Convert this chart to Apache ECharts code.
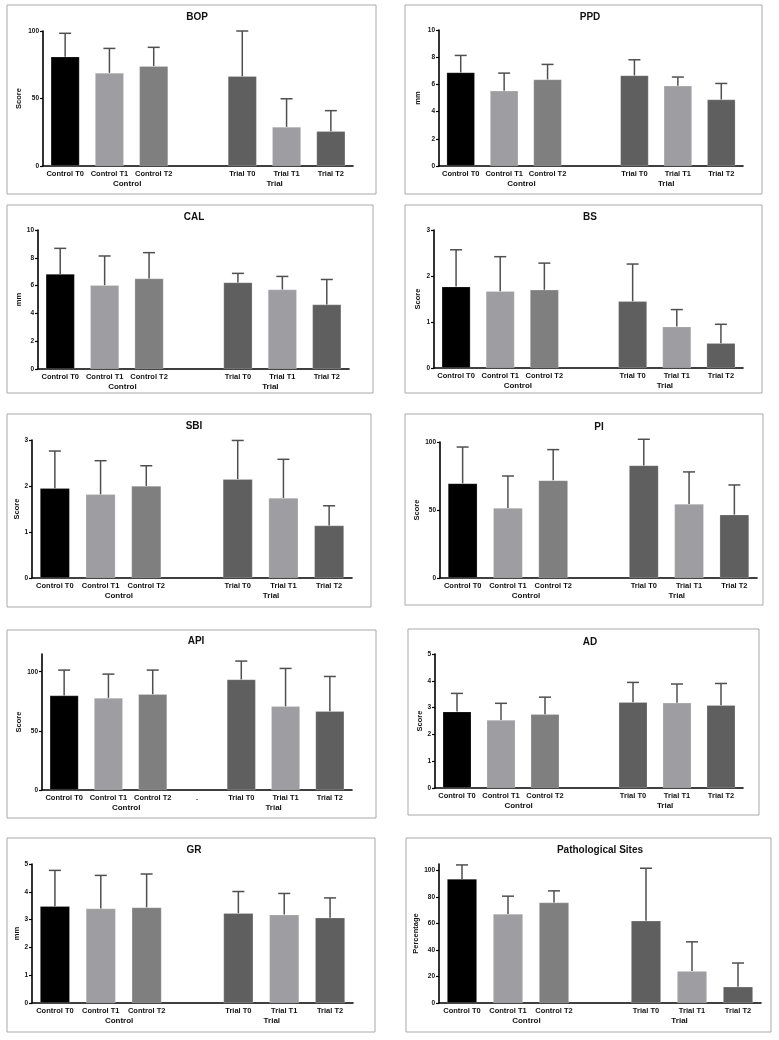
<!DOCTYPE html>
<html>
<head>
<meta charset="utf-8">
<script src="https://cdn.jsdelivr.net/npm/echarts@6/dist/echarts.min.js"></script>
<style>
html,body{margin:0;padding:0;background:#fff;}
#main{width:779px;height:1040px;}
</style>
</head>
<body>
<div id="main"></div>
<script>
// ---- data ----
const categories = ['Control T0','Control T1','Control T2','Trial T0','Trial T1','Trial T2'];
const groupNames = ['Control','Trial'];

const bopMean = [81.0, 69.0, 74.0, 66.5, 29.0, 25.7];
const bopSD   = [17.3, 18.1, 13.9, 33.5, 20.8, 15.3];
const ppdMean = [6.88, 5.53, 6.36, 6.66, 5.90, 4.89];
const ppdSD   = [1.25, 1.30, 1.11, 1.15, 0.64, 1.18];
const calMean = [6.83, 6.03, 6.51, 6.23, 5.72, 4.64];
const calSD   = [1.85, 2.10, 1.86, 0.65, 0.94, 1.80];
const bsMean  = [1.77, 1.67, 1.70, 1.45, 0.90, 0.54];
const bsSD    = [0.80, 0.75, 0.58, 0.81, 0.37, 0.41];
const sbiMean = [1.95, 1.82, 2.00, 2.15, 1.74, 1.14];
const sbiSD   = [0.81, 0.73, 0.44, 0.84, 0.84, 0.43];
const piMean  = [69.6, 51.5, 71.8, 82.8, 54.4, 46.6];
const piSD    = [26.7, 23.5, 22.6, 19.2, 23.6, 21.8];
const apiMean = [79.9, 77.9, 81.0, 93.5, 70.8, 66.6];
const apiSD   = [21.5, 20.1, 20.4, 15.5, 32.0, 29.4];
const adMean  = [2.85, 2.54, 2.75, 3.20, 3.18, 3.09];
const adSD    = [0.68, 0.62, 0.64, 0.74, 0.70, 0.81];
const grMean  = [3.48, 3.40, 3.44, 3.23, 3.18, 3.07];
const grSD    = [1.29, 1.19, 1.20, 0.78, 0.76, 0.71];
const psMean  = [93.7, 67.3, 75.9, 62.1, 24.1, 12.3];
const psSD    = [10.6, 13.4, 8.8, 39.7, 22.1, 17.9];

const bopTicks = [0, 50, 100];
const ppdTicks = [0, 2, 4, 6, 8, 10];
const calTicks = [0, 2, 4, 6, 8, 10];
const bsTicks  = [0, 1, 2, 3];
const sbiTicks = [0, 1, 2, 3];
const piTicks  = [0, 50, 100];
const apiTicks = [0, 50, 100];
const adTicks  = [0, 1, 2, 3, 4, 5];
const grTicks  = [0, 1, 2, 3, 4, 5];
const psTicks  = [0, 20, 40, 60, 80, 100];

const panels = [
  {title:'BOP', unit:'Score', mean:bopMean, sd:bopSD, max:100, ticks:bopTicks, gap:''},
  {title:'PPD', unit:'mm', mean:ppdMean, sd:ppdSD, max:10, ticks:ppdTicks, gap:''},
  {title:'CAL', unit:'mm', mean:calMean, sd:calSD, max:10, ticks:calTicks, gap:''},
  {title:'BS', unit:'Score', mean:bsMean, sd:bsSD, max:3, ticks:bsTicks, gap:''},
  {title:'SBI', unit:'Score', mean:sbiMean, sd:sbiSD, max:3, ticks:sbiTicks, gap:''},
  {title:'PI', unit:'Score', mean:piMean, sd:piSD, max:100, ticks:piTicks, gap:''},
  {title:'API', unit:'Score', mean:apiMean, sd:apiSD, max:115, ticks:apiTicks, gap:'.'},
  {title:'AD', unit:'Score', mean:adMean, sd:adSD, max:5, ticks:adTicks, gap:''},
  {title:'GR', unit:'mm', mean:grMean, sd:grSD, max:5, ticks:grTicks, gap:''},
  {title:'Pathological Sites', unit:'Percentage', mean:psMean, sd:psSD, max:105, ticks:psTicks, gap:''}
];

// ---- layout / style (not data) ----
const layout = [
  {box:[7,5,369,189],   grid:[43,31,310,135],  title:[197,17],  nameGap:20},
  {box:[405,5,357,189], grid:[439,30,304,136], title:[590,17],  nameGap:17},
  {box:[7,205,366,188], grid:[38,230,311,139], title:[194,217], nameGap:15},
  {box:[405,205,357,188],grid:[434,230,309,138],title:[590,217], nameGap:12},
  {box:[7,414,364,193], grid:[32,440,320,138], title:[194,426], nameGap:9},
  {box:[405,414,358,191],grid:[440,442,317,136],title:[599,427], nameGap:18},
  {box:[7,630,369,188], grid:[42,654,310,136], title:[196,641], nameGap:19},
  {box:[408,629,351,186],grid:[435,654,308,134],title:[590,642], nameGap:10},
  {box:[7,838,368,194], grid:[32,864,321,139], title:[194,850], nameGap:9},
  {box:[406,838,365,194],grid:[439,864,322,139],title:[600,850], nameGap:16}
];
const groupLabelPos = [1.9, 5.23];
const barColors = ['#000000','#9e9ea2','#7f7f7f','#5f5f5f','#9e9ea2','#5f5f5f'];
const FONT = 'Liberation Sans, Arial, Helvetica, sans-serif';
const TEXT = '#111';
const ERR = '#4f4f4f';

const grids = [], xAxes = [], yAxes = [], series = [], graphics = [];

function slotOf(i){ return i < 3 ? i : i + 1; }

panels.forEach((p, k) => {
  const L = layout[k];
  grids.push({left:L.grid[0], top:L.grid[1], width:L.grid[2], height:L.grid[3]});
  const cats = categories.slice(0,3).concat([p.gap]).concat(categories.slice(3));
  xAxes.push({
    type:'category', gridIndex:k, data:cats, boundaryGap:true,
    axisLine:{show:true, lineStyle:{color:'#000', width:1.6}},
    axisTick:{show:false},
    axisLabel:{interval:0, fontFamily:FONT, fontWeight:'bold', fontSize:7.5, color:TEXT, margin:4},
    splitLine:{show:false}
  });
  xAxes.push({
    type:'value', gridIndex:k, min:0, max:7, position:'bottom',
    axisLine:{show:false}, axisTick:{show:false}, splitLine:{show:false},
    axisLabel:{
      customValues: groupLabelPos,
      formatter: v => {
        let best = 0;
        groupLabelPos.forEach((g, j) => { if (Math.abs(g - v) < Math.abs(groupLabelPos[best] - v)) best = j; });
        return groupNames[best];
      },
      fontFamily:FONT, fontWeight:'bold', fontSize:8, color:TEXT, margin:14, showMinLabel:true, showMaxLabel:true
    }
  });
  yAxes.push({
    type:'value', gridIndex:k, min:0, max:p.max,
    name:p.unit, nameLocation:'middle', nameRotate:90, nameGap:L.nameGap,
    nameTextStyle:{fontFamily:FONT, fontWeight:'bold', fontSize:7.5, color:TEXT},
    axisLine:{show:true, lineStyle:{color:'#000', width:1.6}},
    axisTick:{show:true, length:3, lineStyle:{color:'#000', width:1.2}, customValues:p.ticks},
    axisLabel:{customValues:p.ticks, fontFamily:FONT, fontWeight:'bold', fontSize:6.5, color:TEXT, margin:4},
    splitLine:{show:false}
  });
  const barData = [];
  for (let s = 0; s < 7; s++) barData.push(null);
  p.mean.forEach((m, i) => {
    barData[slotOf(i)] = {value:m, itemStyle:{color:barColors[i]}};
  });
  series.push({
    type:'bar', xAxisIndex:2*k, yAxisIndex:k, data:barData, barWidth:'65%',
    itemStyle:{borderColor:'rgba(255,255,255,0.35)', borderWidth:0.6},
    silent:true, animation:false
  });
  const errData = p.mean.map((m, i) => [slotOf(i), m, m + p.sd[i]]);
  series.push({
    type:'custom', xAxisIndex:2*k, yAxisIndex:k, data:errData, z:5, animation:false, silent:true,
    encode:{x:0, y:[1,2]},
    renderItem:(params, api) => {
      const x = api.value(0), m = api.value(1), u = api.value(2);
      const a = api.coord([x, m]), b = api.coord([x, u]);
      const half = 6;
      return {type:'group', children:[
        {type:'line', shape:{x1:a[0], y1:a[1], x2:b[0], y2:b[1]}, style:{stroke:ERR, lineWidth:1.5}},
        {type:'line', shape:{x1:b[0]-half, y1:b[1], x2:b[0]+half, y2:b[1]}, style:{stroke:ERR, lineWidth:1.5}}
      ]};
    }
  });
  graphics.push({
    type:'rect', shape:{x:L.box[0], y:L.box[1], width:L.box[2], height:L.box[3]},
    style:{fill:'none', stroke:'#a9a9a9', lineWidth:1}, silent:true, z:-1
  });
  graphics.push({
    type:'text', x:L.title[0], y:L.title[1],
    style:{text:p.title, textAlign:'center', textVerticalAlign:'middle',
           font:'bold 10px ' + FONT, fill:TEXT}, silent:true
  });
});

const chart = echarts.init(document.getElementById('main'), null, {renderer:'canvas'});
chart.setOption({
  backgroundColor:'#ffffff',
  animation:false,
  grid:grids, xAxis:xAxes, yAxis:yAxes, series:series, graphic:graphics
});
</script>
</body>
</html>
